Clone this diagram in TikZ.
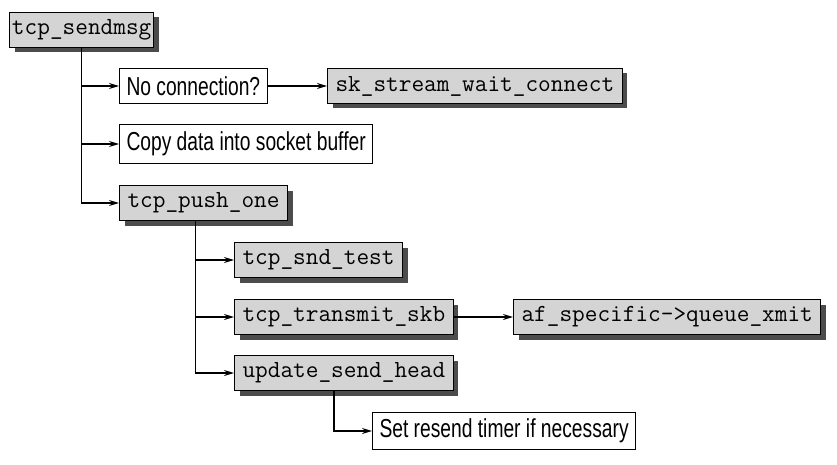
\documentclass[tikz,border=0pt]{standalone}
\usepackage{fontspec}
\newfontfamily\narrowsans[FakeStretch=0.74]{Liberation Sans}
\usetikzlibrary{arrows.meta,shadows}

\begin{document}
\begin{tikzpicture}[x=1pt,y=-1pt,
	func/.style={draw,fill=black!17,line width=1pt,anchor=west,inner xsep=8pt,minimum height=35pt,
		font=\ttfamily\fontsize{24.6}{24.6}\selectfont,
		drop shadow={shadow xshift=5pt,shadow yshift=-5pt,fill=black!70,opacity=1}},
	actn/.style={draw,fill=white,line width=1pt,anchor=west,inner xsep=7pt,minimum height=35pt,
		font=\narrowsans\fontsize{26}{26}\selectfont},
	link/.style={line width=1.4pt,-{Stealth[length=10pt,width=6pt]}}]
	\useasboundingbox (0,0) rectangle (837,465);
	\node[func,inner xsep=2.5pt] (sendmsg) at (9,30) {tcp\_sendmsg};
	\node[actn] (noconn) at (119,86) {No connection?};
	\node[func] (waitconn) at (327,86) {sk\_stream\_wait\_connect};
	\node[actn,minimum height=39pt] (copy) at (119,144) {Copy data into socket buffer};
	\node[func] (pushone) at (119,203) {tcp\_push\_one};
	\node[func] (sndtest) at (234,260) {tcp\_snd\_test};
	\node[func] (xmitskb) at (234,317) {tcp\_transmit\_skb};
	\node[func] (queue) at (513,317) {af\_specific->queue\_xmit};
	\node[func] (sendhead) at (234,373) {update\_send\_head};
	\node[actn,minimum height=37pt] (timer) at (372,431) {Set resend timer if necessary};
	\path[link]
	(sendmsg.south) edge[to path={|- (\tikztotarget)}] (noconn)
	(sendmsg.south) edge[to path={|- (\tikztotarget)}] (copy)
	(sendmsg.south) edge[to path={|- (\tikztotarget)}] (pushone)
	(noconn) edge (waitconn)
	([xshift=-8pt]pushone.south) edge[to path={|- (\tikztotarget)}] (sndtest)
	([xshift=-8pt]pushone.south) edge[to path={|- (\tikztotarget)}] (xmitskb)
	([xshift=-8pt]pushone.south) edge[to path={|- (\tikztotarget)}] (sendhead)
	(xmitskb) edge (queue)
	([xshift=-10pt]sendhead.south) edge[to path={|- (\tikztotarget)}] (timer);
\end{tikzpicture}
\end{document}
